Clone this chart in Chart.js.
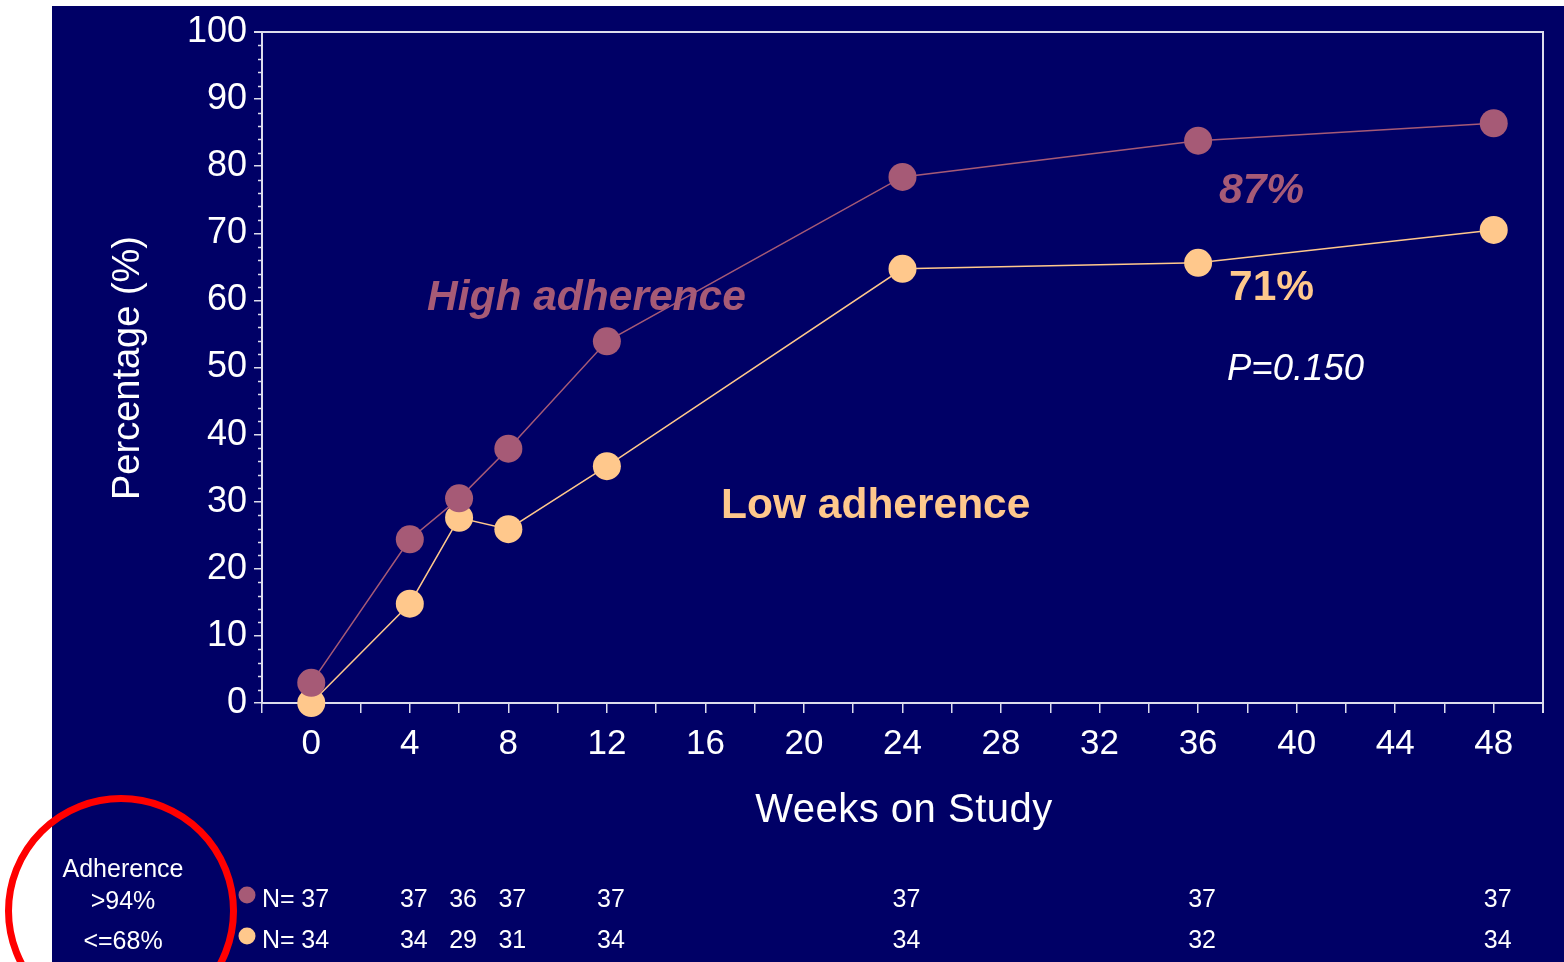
<!DOCTYPE html>
<html>
<head>
<meta charset="utf-8">
<script src="https://cdn.jsdelivr.net/npm/chart.js@4/dist/chart.umd.min.js"></script>
<style>
  html, body { margin: 0; padding: 0; background: #ffffff; }
  canvas { display: block; }
</style>
</head>
<body>
<canvas id="c" width="1564" height="962"></canvas>
<script>
// ---- data ----
const weeks = [0, 4, 6, 8, 12, 24, 36, 48];
const highAdherence = [3, 24.4, 30.5, 37.9, 53.9, 78.4, 83.8, 86.4];
const lowAdherence = [0, 14.8, 27.6, 25.9, 35.3, 64.7, 65.6, 70.5];
const nHigh = [37, 37, 36, 37, 37, 37, 37, 37];
const nLow = [34, 34, 29, 31, 34, 34, 32, 34];
const seriesNames = ['High adherence', 'Low adherence'];
const finalLabels = ['87%', '71%'];
const pValueText = 'P=0.150';
const groupLabels = ['>94%', '<=68%'];
const xTitle = 'Weeks on Study';
const yTitle = 'Percentage (%)';

const FONT = '"Liberation Sans", Arial, Helvetica, sans-serif';
const NAVY = '#000066';
const MAUVE = '#A65A76';
const PEACH = '#FFC88C';
const AXIS = '#DCDCEC';

const decor = {
  id: 'decor',
  beforeDraw(chart) {
    const ctx = chart.ctx;
    ctx.save();
    ctx.fillStyle = '#ffffff';
    ctx.fillRect(0, 0, chart.width, chart.height);
    ctx.fillStyle = NAVY;
    ctx.fillRect(52, 6, chart.width - 52, chart.height - 6);
    ctx.restore();
  },
  beforeDatasetsDraw(chart) {
    const ctx = chart.ctx;
    const ca = chart.chartArea;
    const y = chart.scales.y;
    ctx.save();
    // minor y ticks
    ctx.strokeStyle = AXIS;
    ctx.lineWidth = 1.5;
    for (let v = 2; v < 100; v += 2) {
      if (v % 10 === 0) continue;
      const py = Math.round(y.getPixelForValue(v)) + 0.5;
      ctx.beginPath();
      ctx.moveTo(ca.left - 4, py);
      ctx.lineTo(ca.left, py);
      ctx.stroke();
    }
    // frame top and right
    ctx.lineWidth = 2;
    ctx.beginPath();
    ctx.moveTo(ca.left - 8, ca.top);
    ctx.lineTo(ca.right, ca.top);
    ctx.lineTo(ca.right, ca.bottom + 10);
    ctx.stroke();

    // annotations behind lines
    ctx.textBaseline = 'middle';
    ctx.textAlign = 'left';
    ctx.fillStyle = MAUVE;
    ctx.font = 'italic bold 42.5px ' + FONT;
    ctx.fillText(seriesNames[0], 427, 298);
    ctx.fillStyle = PEACH;
    ctx.font = 'bold 42.5px ' + FONT;
    ctx.fillText(seriesNames[1], 721, 506);
    ctx.fillStyle = MAUVE;
    ctx.font = 'italic bold 42.5px ' + FONT;
    ctx.fillText(finalLabels[0], 1219, 191);
    ctx.fillStyle = PEACH;
    ctx.font = 'bold 42.5px ' + FONT;
    ctx.fillText(finalLabels[1], 1229, 288);
    ctx.fillStyle = '#ffffff';
    ctx.font = 'italic 36.5px ' + FONT;
    ctx.fillText(pValueText, 1227, 370);

    // axis titles
    ctx.textAlign = 'center';
    ctx.font = '40px ' + FONT;
    if ('letterSpacing' in ctx) ctx.letterSpacing = '0.5px';
    ctx.fillText(xTitle, 904, 811);
    if ('letterSpacing' in ctx) ctx.letterSpacing = '0px';
    ctx.save();
    ctx.translate(129, 368);
    ctx.rotate(-Math.PI / 2);
    ctx.font = '38px ' + FONT;
    ctx.fillText(yTitle, 0, 0);
    ctx.restore();
    ctx.restore();
  },
  afterDraw(chart) {
    const ctx = chart.ctx;
    const x = chart.scales.x;
    ctx.save();
    ctx.fillStyle = '#ffffff';
    ctx.textBaseline = 'middle';
    ctx.textAlign = 'center';
    ctx.font = '25px ' + FONT;
    ctx.fillText('Adherence', 123, 870);
    ctx.fillText(groupLabels[0], 123, 902);
    ctx.fillText(groupLabels[1], 123, 942);

    const rows = [[nHigh, MAUVE, 900], [nLow, PEACH, 941]];
    rows.forEach(([arr, col, ry]) => {
      ctx.fillStyle = col;
      ctx.beginPath();
      ctx.arc(247, ry - 5, 8.5, 0, Math.PI * 2);
      ctx.fill();
      ctx.fillStyle = '#ffffff';
      ctx.textAlign = 'left';
      ctx.font = '25px ' + FONT;
      ctx.fillText('N=', 262, ry);
      ctx.textAlign = 'center';
      arr.forEach((n, i) => {
        ctx.fillText(String(n), x.getPixelForValue(weeks[i]) + 4, ry);
      });
    });

    // red circle
    ctx.strokeStyle = '#FF0000';
    ctx.lineWidth = 7;
    ctx.beginPath();
    ctx.arc(121, 911, 112.5, 0, Math.PI * 2);
    ctx.stroke();
    ctx.restore();
  }
};

new Chart(document.getElementById('c'), {
  type: 'line',
  data: {
    datasets: [
      {
        label: seriesNames[0],
        data: weeks.map((w, i) => ({ x: w, y: highAdherence[i] })),
        borderColor: MAUVE,
        backgroundColor: MAUVE,
        borderWidth: 1.5,
        pointRadius: 14,
        pointHoverRadius: 14,
        pointBorderWidth: 0,
        pointBackgroundColor: MAUVE,
        tension: 0,
        clip: false
      },
      {
        label: seriesNames[1],
        data: weeks.map((w, i) => ({ x: w, y: lowAdherence[i] })),
        borderColor: PEACH,
        backgroundColor: PEACH,
        borderWidth: 1.5,
        pointRadius: 14,
        pointHoverRadius: 14,
        pointBorderWidth: 0,
        pointBackgroundColor: PEACH,
        tension: 0,
        clip: false
      }
    ]
  },
  options: {
    responsive: false,
    animation: false,
    devicePixelRatio: 1,
    layout: { padding: { left: 0, top: 32, right: 21, bottom: 0 } },
    plugins: { legend: { display: false }, tooltip: { enabled: false } },
    scales: {
      x: {
        type: 'linear',
        min: -2,
        max: 50,
        afterFit(s) { s.height = 259; },
        ticks: {
          stepSize: 2,
          autoSkip: false,
          maxRotation: 0,
          color: '#ffffff',
          font: { family: FONT, size: 35 },
          padding: 10,
          callback: v => (v >= 0 && v % 4 === 0) ? String(v) : ''
        },
        grid: { drawOnChartArea: false, drawTicks: true, tickLength: 10, color: AXIS, lineWidth: 1.5 },
        border: { display: true, color: AXIS, width: 2 }
      },
      y: {
        type: 'linear',
        min: 0,
        max: 100,
        afterFit(s) { s.width = 262; },
        ticks: {
          stepSize: 10,
          color: '#ffffff',
          font: { family: FONT, size: 36 },
          padding: 7
        },
        grid: { drawOnChartArea: false, drawTicks: true, tickLength: 8, color: AXIS, lineWidth: 1.5 },
        border: { display: true, color: AXIS, width: 2 }
      }
    }
  },
  plugins: [decor]
});
</script>
</body>
</html>
